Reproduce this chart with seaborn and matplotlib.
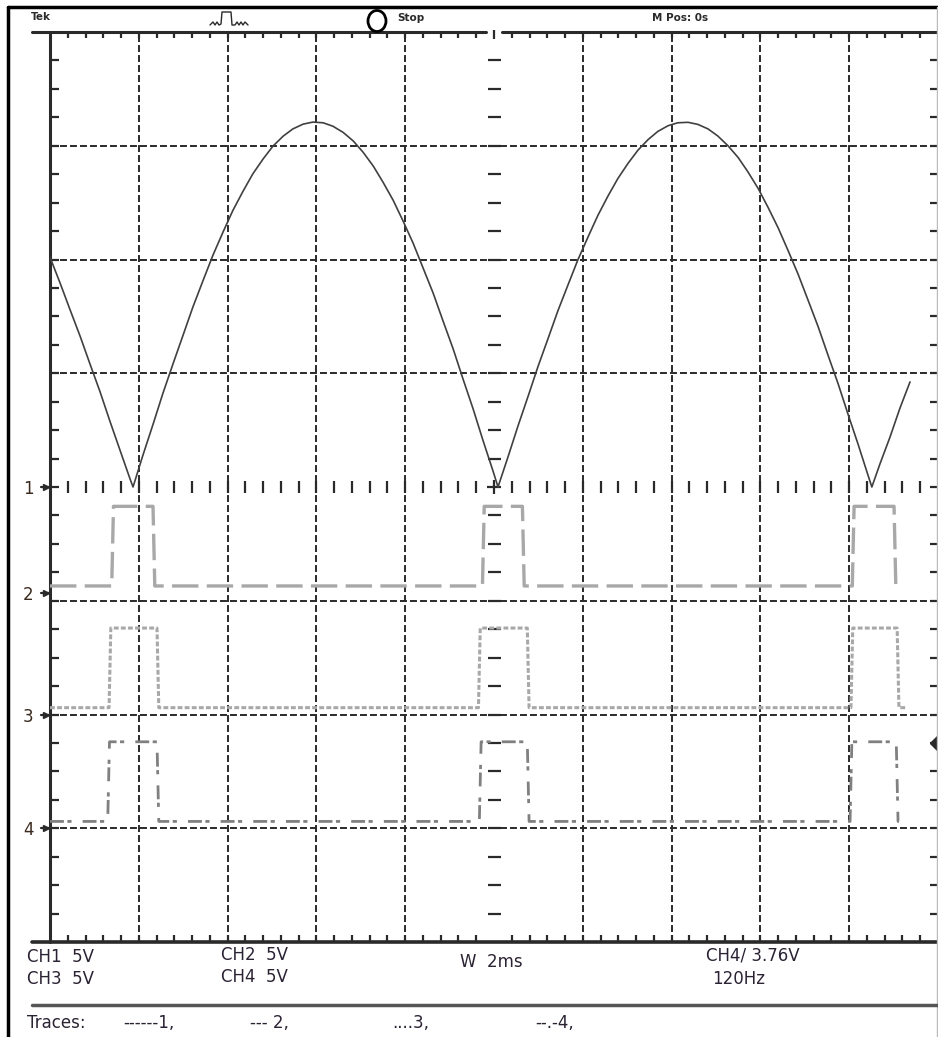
import numpy as np
import matplotlib
matplotlib.use('Agg')
import matplotlib.pyplot as plt
import seaborn as sns
from matplotlib.lines import Line2D
from matplotlib.patches import Ellipse

# CH1, 5 V/div: rectified mains (time in ms, volts)
ch1_t = [-10.00, -9.77, -9.55, -9.32, -9.10, -8.87, -8.65, -8.42, -8.20,
         -8.13, -7.91, -7.68, -7.46, -7.23, -7.00, -6.78, -6.55, -6.33, -6.10,
         -5.88, -5.65, -5.43, -5.20, -4.98, -4.75, -4.53, -4.30, -4.08, -3.85,
         -3.63, -3.40, -3.17, -2.95, -2.72, -2.50, -2.27, -2.05, -1.82, -1.60,
         -1.37, -1.15, -0.92, -0.70, -0.47, -0.25, -0.02,
         0.09, 0.32, 0.54, 0.77, 0.99, 1.22, 1.44, 1.67, 1.89, 2.12,
         2.34, 2.57, 2.79, 3.02, 3.24, 3.47, 3.69, 3.92, 4.14, 4.37,
         4.59, 4.82, 5.04, 5.27, 5.50, 5.72, 5.95, 6.17, 6.40, 6.62,
         6.85, 7.07, 7.30, 7.52, 7.75, 7.97, 8.20, 8.42,
         8.51, 8.69, 8.92, 9.14, 9.37]
ch1_v = [10.10, 8.95, 7.80, 6.62, 5.41, 4.17, 2.89, 1.60, 0.37,
         0.00, 1.38, 2.75, 4.10, 5.41, 6.69, 7.92, 9.09, 10.19, 11.22,
         12.16, 13.01, 13.77, 14.42, 14.98, 15.42, 15.74, 15.95, 16.04, 16.01,
         15.86, 15.59, 15.21, 14.72, 14.11, 13.40, 12.60, 11.70, 10.71, 9.64,
         8.52, 7.31, 6.07, 4.76, 3.43, 2.06, 0.69,
         0.00, 1.35, 2.68, 4.00, 5.29, 6.54, 7.75, 8.90, 9.99, 11.00,
         11.94, 12.80, 13.56, 14.23, 14.80, 15.27, 15.63, 15.88, 16.01, 16.03,
         15.94, 15.74, 15.43, 15.00, 14.48, 13.85, 13.12, 12.30, 11.39, 10.41,
         9.35, 8.23, 7.05, 5.81, 4.54, 3.22, 1.88, 0.54,
         0.00, 1.00, 2.20, 3.45, 4.62]

# CH2..CH4, 5 V/div: gate pulses (rise/fall times in ms)
pulse_low = 0.3
pulse_high = 3.8
ch2_edges = [-8.61, -7.68, -0.26, 0.64, 8.07, 9.01]
ch3_edges = [-8.67, -7.59, -0.35, 0.75, 8.04, 9.08]
ch4_edges = [-8.70, -7.59, -0.33, 0.75, 8.02, 9.06]
trace_end = {2: 9.19, 3: 9.28, 4: 9.12}

# channel ground markers, in divisions
ch_offset = {1: 0.0, 2: -0.93, 3: -2.0, 4: -3.0}
volts_per_div = 5
trig_level = 3.76

W, H = 938, 1037
sns.set_style('white')
plt.rcParams['font.family'] = ['DejaVu Sans']
plt.rcParams['lines.scale_dashes'] = False

fig = plt.figure(figsize=(W / 100, H / 100), dpi=100)
ax = fig.add_axes([50 / W, 95 / H, 888 / W, 910 / H])
ax.set_xlim(-10, 10)
ax.set_ylim(-4, 4)
ax.axis('off')

PX = 20 / 888   # ms per pixel
PY = 8 / 910    # div per pixel
ink = '#2a2a2a'


def fx(px):
    return px / W


def fy(py):
    return 1 - py / H


# graticule
grid_ls = (0, (5, 2.2))
for t in [-8, -6, -4, -2, 2, 4, 6, 8]:
    ax.axvline(t, color=ink, lw=1.4, ls=grid_ls, zorder=1)
for y in [-3, -2, -1, 1, 2, 3]:
    ax.axhline(y, color=ink, lw=1.4, ls=grid_ls, zorder=1)

xt = np.round(np.arange(-9.6, 9.7, 0.4), 2)
xt = xt[np.abs(xt) > 0.01]
yt = np.round(np.arange(-3.75, 3.8, 0.25), 2)
yt_c = yt[np.abs(yt) > 0.01]

kw = dict(color=ink, lw=1.6, clip_on=False, zorder=2)
ax.plot([-10 - 18 * PX, -0.17], [4, 4], color=ink, lw=2.2, clip_on=False)
ax.plot([0.17, 10], [4, 4], color=ink, lw=2.2, clip_on=False)
ax.plot([-10 - 18 * PX, 10], [-4, -4], color=ink, lw=2.6, clip_on=False)
ax.plot([-10, -10], [-4, 4], color=ink, lw=2.2, clip_on=False)
ax.vlines([0], 4 - 7 * PY, 4 + 2 * PY, **kw)
ax.vlines(xt, 4 - 6 * PY, 4, **kw)
ax.vlines(xt, -4, -4 + 7 * PY, **kw)
ax.hlines(yt, -10, -10 + 9 * PX, **kw)
ax.hlines(yt, 10 - 8 * PX, 10, **kw)
ax.hlines(yt_c, -6.5 * PX, 6.5 * PX, **kw)
ax.vlines(xt, -6 * PY, 6 * PY, **kw)
ax.plot([0], [0], marker='+', ms=10, mew=1.6, color=ink, clip_on=False)

# traces
sns.lineplot(x=ch1_t, y=np.array(ch1_v) / volts_per_div + ch_offset[1], ax=ax,
             sort=False, estimator=None, color='#404040', lw=1.2, zorder=5)


def pulse_trace(edges, end):
    t, v = [-10.0], [pulse_low]
    for r, f in zip(edges[0::2], edges[1::2]):
        t += [r, r + 0.04, f, f + 0.04]
        v += [pulse_low, pulse_high, pulse_high, pulse_low]
    t.append(end)
    v.append(pulse_low)
    return t, np.array(v)


styles = {
    2: dict(color='#a8a8a8', lw=2.4, ls=(0, (19, 6))),
    3: dict(color='#a8a8a8', lw=2.2, ls=(0, (3.5, 1.6))),
    4: dict(color='#808080', lw=2.0, ls=(0, (10, 2.5, 3, 8))),
}
for ch, edges in [(2, ch2_edges), (3, ch3_edges), (4, ch4_edges)]:
    t, v = pulse_trace(edges, trace_end[ch])
    sns.lineplot(x=t, y=v / volts_per_div + ch_offset[ch], ax=ax, sort=False,
                 estimator=None, zorder=4, **styles[ch])

ax.set_xlabel('')
ax.set_ylabel('')

# channel ground markers
for ch, off in ch_offset.items():
    ax.plot([-10 - 9 * PX, -10], [off, off], color=ink, lw=1.6, clip_on=False)
    ax.plot([-10 - 4 * PX], [off], marker='>', ms=4, color=ink, clip_on=False)
    ax.text(-10 - 22 * PX, off - 2 * PY, str(ch), ha='center', va='center',
            fontsize=12, color='#3b2a1e')

# trigger level marker
ax.plot([10], [trig_level / volts_per_div + ch_offset[4]], marker='D', ms=8,
        color=ink, clip_on=False)

# outer frame and separator
fig.add_artist(Line2D([fx(8), fx(938)], [fy(7), fy(7)], color='black', lw=2.5))
fig.add_artist(Line2D([fx(8), fx(8)], [fy(7), 0], color='black', lw=2.5))
fig.add_artist(Line2D([fx(937), fx(937)], [fy(7), 0], color='#bbbbbb', lw=1))
fig.add_artist(Line2D([fx(32), fx(938)], [fy(1005), fy(1005)], color='#555555', lw=2.5))

# header
fig.text(fx(31), fy(17), 'Tek', fontsize=7.5, weight='bold', va='center', color=ink)
fig.text(fx(397), fy(18), 'Stop', fontsize=7.5, weight='bold', va='center', color=ink)
fig.text(fx(652), fy(18), 'M Pos: 0s', fontsize=7.5, weight='bold', va='center', color=ink)
icon_x = [210, 213, 215, 217, 219, 221, 222, 231, 232, 235, 237, 239, 241, 243, 245, 248]
icon_y = [25, 22, 25, 22, 25, 24, 12, 12, 25, 25, 22, 25, 22, 25, 22, 25]
fig.add_artist(Line2D([fx(v) for v in icon_x], [fy(v) for v in icon_y], color=ink, lw=1))
fig.add_artist(Ellipse((fx(377), fy(21)), 18 / W, 21 / H, fill=False, ec='black', lw=2))

# status text
txt = dict(fontsize=12, va='center', ha='left', color='#2b2233')
fig.text(fx(27), fy(957), 'CH1  5V', **txt)
fig.text(fx(27), fy(979), 'CH3  5V', **txt)
fig.text(fx(221), fy(955), 'CH2  5V', **txt)
fig.text(fx(221), fy(977), 'CH4  5V', **txt)
fig.text(fx(460), fy(962), 'W  2ms', **txt)
fig.text(fx(706), fy(955), 'CH4/ 3.76V', **txt)
fig.text(fx(712), fy(979), '120Hz', **txt)
fig.text(fx(27), fy(1023), 'Traces:', **txt)
fig.text(fx(123), fy(1023), '------1,', **txt)
fig.text(fx(250), fy(1023), '--- 2,', **txt)
fig.text(fx(392), fy(1023), '....3,', **txt)
fig.text(fx(535), fy(1023), '--.-4,', **txt)

fig.savefig('out.png', dpi=100)
